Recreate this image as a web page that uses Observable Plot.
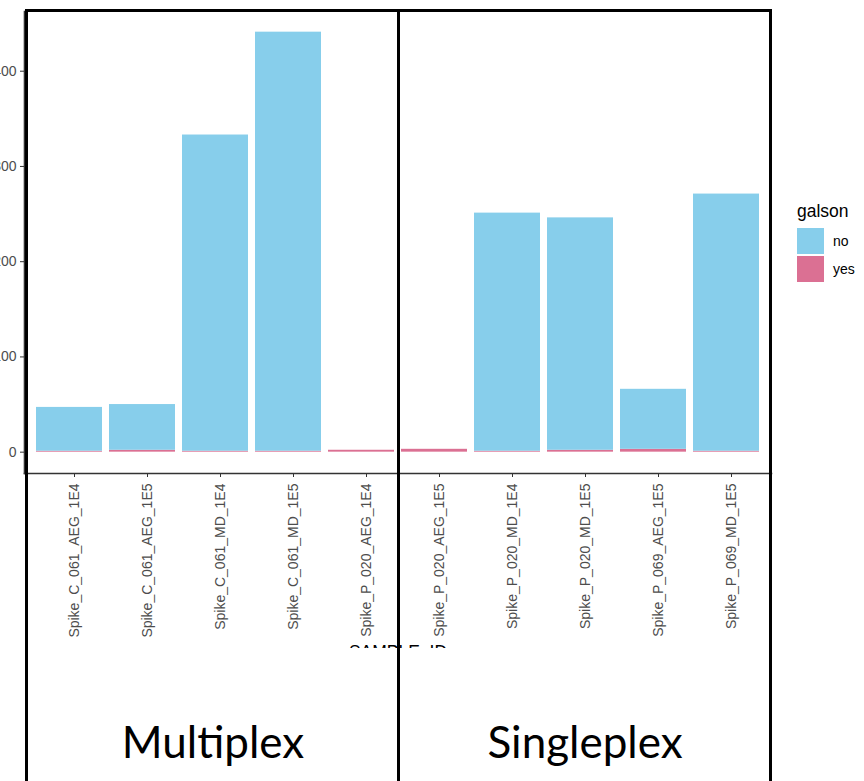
<!DOCTYPE html>
<html><head><meta charset="utf-8">
<script src="https://cdn.jsdelivr.net/npm/d3@7"></script>
<script src="https://cdn.jsdelivr.net/npm/@observablehq/plot@0.6"></script>
<style>
body{margin:0;background:#fff;}
#wrap{position:relative;width:864px;height:781px;overflow:hidden;font-family:"Liberation Sans",Arial,sans-serif;}
#wrap svg{position:absolute;left:0;top:0;}
</style></head><body><div id="wrap"></div>
<script>
const samples = ["Spike_C_061_AEG_1E4","Spike_C_061_AEG_1E5","Spike_C_061_MD_1E4","Spike_C_061_MD_1E5","Spike_P_020_AEG_1E4","Spike_P_020_AEG_1E5","Spike_P_020_MD_1E4","Spike_P_020_MD_1E5","Spike_P_069_AEG_1E5","Spike_P_069_MD_1E5"];
const noCounts  = [46, 48, 332, 440, 0, 0, 250, 244, 63, 270];
const yesCounts = [1, 2, 1, 1, 2, 3, 1, 2, 3, 1];
const groups = ["no", "yes"];
const colors = ["#87CEEB", "#DB7093"];
const yTicks = [0, 100, 200, 300, 400];
const legendTitle = "galson";
const xTitle = "SAMPLE_ID";
const panelLabels = ["Multiplex", "Singleplex"];

const data = [];
samples.forEach((s, i) => {
  data.push({sample: s, galson: "yes", n: yesCounts[i]});
  data.push({sample: s, galson: "no", n: noCounts[i]});
});

const chart = Plot.plot({
  width: 864, height: 781,
  marginLeft: 24, marginRight: 93, marginTop: 11, marginBottom: 308,
  style: {fontFamily: '"Liberation Sans", Arial, sans-serif', fontSize: "14px", background: "transparent", overflow: "visible"},
  x: {domain: samples, paddingInner: 0.1, paddingOuter: 0.15, label: null},
  y: {domain: [-22.4, 462.7], label: null},
  color: {domain: groups, range: colors},
  marks: [
    Plot.barY(data, {x: "sample", y: "n", fill: "galson"}),
    Plot.frame({anchor: "left", stroke: "#333", strokeWidth: 1.6}),
    Plot.frame({anchor: "bottom", stroke: "#333", strokeWidth: 1.6}),
    Plot.axisY({ticks: yTicks, tickSize: 4, tickPadding: 4, fontSize: 14, stroke: "#333", fill: "#4d4d4d", label: null}),
    Plot.axisX({tickRotate: -90, tickSize: 4, tickPadding: 6, fontSize: 14, dx: 5, stroke: "#333", fill: "#4d4d4d", label: null}),
    Plot.text([xTitle], {text: d => d, frameAnchor: "bottom", dy: 172, lineAnchor: "top", fontSize: 17.5, fill: "black"})
  ]
});
document.getElementById("wrap").appendChild(chart);

// annotation overlay (boxes + panel labels + legend)
const ov = d3.select("#wrap").append("svg").attr("width", 864).attr("height", 781)
  .style("font-family", '"Liberation Sans", Arial, sans-serif');
ov.append("rect").attr("x", 28).attr("y", 648).attr("width", 741).attr("height", 140).attr("fill", "white");
const lineX = [26.5, 398.5, 770.5];
ov.append("line").attr("x1", 25).attr("x2", 772).attr("y1", 10.5).attr("y2", 10.5).attr("stroke", "black").attr("stroke-width", 3);
lineX.forEach(x => ov.append("line").attr("x1", x).attr("x2", x).attr("y1", 9).attr("y2", 781).attr("stroke", "black").attr("stroke-width", 3));
const panelCx = [213, 585];
panelLabels.forEach((t, i) => ov.append("text").attr("x", panelCx[i]).attr("y", 758).attr("text-anchor", "middle")
  .attr("font-family", "Lato, 'Open Sans', sans-serif").attr("font-size", 44).attr("fill", "black").text(t));
// legend
ov.append("text").attr("x", 797).attr("y", 217).attr("font-size", 17.5).attr("fill", "black").text(legendTitle);
groups.forEach((g, i) => {
  ov.append("rect").attr("x", 797).attr("y", 228 + i * 28).attr("width", 27).attr("height", 26).attr("fill", colors[i]);
  ov.append("text").attr("x", 833).attr("y", 246 + i * 28).attr("font-size", 14).attr("fill", "black").text(g);
});
</script>
</body></html>
